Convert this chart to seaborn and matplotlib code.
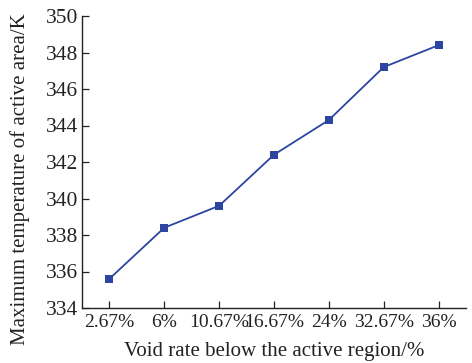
import matplotlib
matplotlib.use("Agg")
import matplotlib.pyplot as plt
import seaborn as sns
import pandas as pd

categories = ["2.67%", "6%", "10.67%", "16.67%", "24%", "32.67%", "36%"]
temps = [335.6, 338.4, 339.6, 342.4, 344.3, 347.2, 348.4]
yticks = [334, 336, 338, 340, 342, 344, 346, 348, 350]

sns.set_style("white")
plt.rcParams['font.family'] = ['Liberation Serif', 'DejaVu Serif']

df = pd.DataFrame({"x": range(len(categories)), "y": temps})

fig = plt.figure(figsize=(4.72, 3.63), dpi=100)
ax = fig.add_axes([82/472, 1 - 308/363, (466-82)/472, (308-16)/363])
sns.lineplot(data=df, x="x", y="y", ax=ax, color="#2b45a0", marker="s",
             markersize=5.5, markeredgewidth=0, linewidth=1.3)
ax.set_xlim(-0.5, 6.5)
ax.set_ylim(334, 350)
ax.set_xticks(range(len(categories)))
ax.set_xticklabels(categories)
ax.set_yticks(yticks)
ax.set_yticklabels([str(v) for v in yticks])
for s in ["top", "right"]:
    ax.spines[s].set_visible(False)
for s in ["left", "bottom"]:
    ax.spines[s].set_color("#222222")
    ax.spines[s].set_linewidth(1.0)
ax.tick_params(axis="y", direction="in", length=5, width=0.9, labelsize=15.5, pad=3, left=True, colors="#222222")
ax.tick_params(axis="x", direction="in", length=5, width=0.9, labelsize=14, pad=4, bottom=True, colors="#222222")
ax.set_xlabel("Void rate below the active region/%", fontsize=15, color="#222222", labelpad=8)
ax.set_ylabel("Maximum temperature of active area/K", fontsize=15, color="#222222")
ax.yaxis.set_label_coords(-0.135, 0.44)
fig.savefig("out.png", dpi=100)
